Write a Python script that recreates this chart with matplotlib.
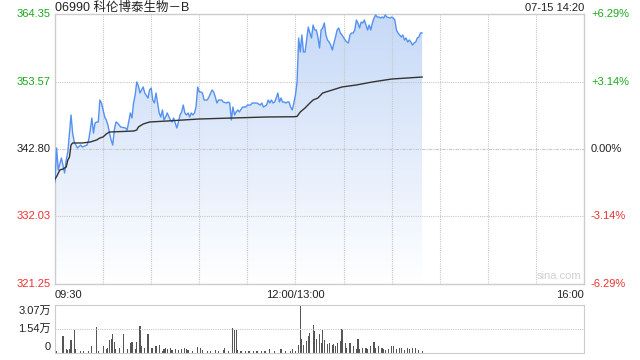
import matplotlib
matplotlib.use('Agg')
from matplotlib import pyplot as plt
from matplotlib.colors import LinearSegmentedColormap
import numpy as np

plt.rcParams['font.family'] = ['Liberation Sans', 'Noto Sans CJK SC', 'DejaVu Sans']

title = '06990 科伦博泰生物－B'
stamp = '07-15 14:20'
prev_close = 342.80
price_ticks = [321.25, 332.03, 342.80, 353.57, 364.35]
pct_labels = ['-6.29%', '-3.14%', '0.00%', '+3.14%', '+6.29%']
time_labels = ['09:30', '12:00/13:00', '16:00']
vol_labels = ['0', '1.54万', '3.07万']
vol_ticks = [0, 1.54, 3.07]

# minutes since 09:30 (lunch break removed, 13:00 = 150)
minutes = [0, 1, 2, 4, 6, 7, 8, 10, 11, 12, 13, 14, 16, 17, 20, 21, 22, 23, 24, 25,
           26, 27, 28, 29, 30, 31, 32, 33, 34, 35, 36, 37, 38, 39, 41, 44, 45, 47, 48, 49,
           50, 51, 52, 53, 55, 56, 58, 59, 60, 61, 62, 63, 64, 65, 66, 67, 68, 69, 70, 72,
           73, 74, 75, 76, 77, 78, 79, 80, 81, 82, 83, 84, 85, 86, 87, 88, 89, 90, 91, 92,
           93, 95, 96, 98, 99, 100, 101, 102, 104, 105, 107, 108, 109, 110, 111, 112, 113, 114, 115, 117,
           119, 120, 122, 123, 126, 128, 129, 130, 132, 133, 134, 135, 136, 137, 138, 139, 140, 141, 142, 143,
           144, 145, 146, 147, 148, 149, 150, 151, 152, 153, 154, 155, 156, 158, 159, 160, 161, 162, 163, 164,
           165, 166, 167, 168, 169, 170, 171, 172, 173, 174, 175, 176, 177, 178, 179, 181, 182, 183, 184, 185,
           186, 187, 188, 189, 190, 191, 192, 193, 194, 195, 196, 197, 198, 199, 200, 201, 202, 203, 204, 205,
           206, 207, 209, 210, 211, 212, 213, 214, 215, 216, 217, 218, 219, 220, 221, 222, 223, 224, 225, 226,
           227, 228, 229]
prices = [337.53, 342.96, 339.45, 341.36, 338.97, 341.04, 342.32, 348.23, 345.35, 343.92, 343.44, 342.96, 343.44, 343.12, 343.44, 344.24, 345.83, 347.75, 345.35, 346.95,
          347.11, 347.11, 350.62, 350.14, 349.03, 347.91, 347.43, 346.63, 345.35, 344.24, 343.44, 345.83, 347.11, 346.95, 346.31, 346.15, 345.83, 348.55, 347.75, 350.14,
          351.42, 353.50, 352.90, 351.74, 352.70, 351.74, 350.94, 352.22, 352.54, 350.62, 350.14, 351.74, 350.14, 348.55, 347.91, 349.03, 347.43, 347.91, 348.55, 347.43,
          347.11, 347.75, 346.95, 346.15, 347.11, 348.23, 348.71, 349.82, 348.55, 348.23, 348.55, 347.91, 348.55, 348.23, 348.55, 349.50, 352.70, 351.90, 351.90, 351.74,
          350.62, 350.62, 351.10, 352.22, 351.90, 351.10, 350.14, 350.62, 350.62, 350.30, 350.14, 350.30, 350.14, 347.43, 349.50, 348.23, 348.71, 349.03, 348.71, 349.50,
          349.50, 349.82, 349.82, 350.14, 350.14, 349.82, 350.14, 349.50, 349.82, 350.62, 350.14, 350.62, 350.14, 350.30, 350.94, 351.74, 350.30, 350.94, 350.30, 350.30,
          350.14, 350.30, 350.30, 349.50, 349.03, 350.14, 351.42, 353.50, 360.52, 358.28, 361.00, 358.28, 358.28, 362.27, 361.32, 360.52, 362.59, 361.80, 361.80, 360.68,
          358.92, 361.80, 362.12, 362.91, 361.00, 360.20, 359.88, 359.40, 358.60, 359.72, 360.68, 361.80, 362.12, 361.32, 361.00, 360.20, 359.88, 359.72, 361.00, 361.32,
          361.32, 361.80, 363.39, 362.91, 362.12, 363.07, 362.91, 363.39, 362.59, 361.80, 362.59, 361.80, 362.91, 363.71, 364.19, 363.87, 363.87, 363.71, 363.87, 363.71,
          364.19, 363.87, 363.71, 363.87, 363.71, 363.39, 361.80, 361.32, 361.00, 360.68, 361.00, 360.20, 360.52, 359.88, 360.20, 359.88, 359.40, 359.72, 359.88, 360.52,
          360.68, 361.32, 361.32]

avg_minutes = [0, 1, 3, 5, 7, 8, 9, 10, 11, 17, 22, 26, 28, 30, 32, 34, 49, 51, 52, 55,
               59, 70, 80, 90, 111, 132, 149, 151, 153, 156, 159, 161, 164, 167, 171, 177, 179, 188, 198, 210,
               229]
avg_prices = [338.00, 338.40, 339.45, 339.60, 339.93, 341.04, 341.50, 343.44, 343.76, 343.76, 343.92, 344.24, 344.56, 344.72, 345.20, 345.51, 345.67, 345.83, 346.31, 346.79,
              347.11, 347.27, 347.43, 347.59, 347.75, 347.91, 347.95, 348.00, 348.71, 349.35, 350.14, 350.62, 350.94, 351.74, 352.06, 352.54, 352.70, 353.02, 353.50, 353.97,
              354.29]

# volume in units of 10,000 shares
vol_minutes = [1, 5, 7, 8, 9, 10, 12, 13, 16, 18, 21, 23, 26, 27, 30, 32, 33, 34, 35, 36,
               37, 38, 40, 43, 45, 47, 48, 50, 51, 53, 54, 56, 58, 60, 61, 63, 65, 67, 68, 69,
               70, 72, 73, 75, 77, 79, 81, 82, 83, 86, 89, 91, 92, 95, 97, 100, 102, 105, 106, 108,
               111, 112, 113, 114, 116, 119, 121, 124, 126, 129, 131, 134, 137, 141, 144, 147, 148, 150, 152, 153,
               154, 155, 157, 158, 159, 161, 162, 163, 165, 166, 167, 168, 170, 171, 173, 174, 175, 176, 178, 179,
               181, 182, 184, 186, 188, 189, 190, 192, 194, 195, 197, 199, 200, 202, 204, 205, 206, 208, 210, 211,
               213, 215, 216, 218, 220, 221, 223, 225, 227, 229]
volumes = [0.15, 1.09, 0.25, 0.20, 0.25, 0.84, 1.44, 0.25, 0.15, 0.15, 0.15, 0.42, 1.67, 0.15, 0.42, 0.25, 0.29, 0.84, 0.88, 1.23,
           0.71, 0.25, 0.29, 1.23, 0.25, 0.63, 0.73, 0.25, 0.71, 1.75, 0.46, 0.29, 1.19, 0.35, 0.29, 0.46, 0.50, 0.15, 0.25, 0.29,
           0.25, 0.29, 0.21, 0.25, 0.21, 0.25, 0.29, 0.25, 0.21, 0.15, 0.40, 0.35, 0.21, 0.15, 0.15, 0.21, 0.15, 0.21, 0.29, 0.15,
           1.61, 1.50, 1.44, 0.21, 0.15, 0.10, 0.10, 0.10, 0.10, 0.10, 0.10, 0.25, 0.15, 0.25, 0.15, 0.15, 0.25, 0.15, 0.50, 3.07,
           0.88, 0.50, 0.77, 1.09, 1.29, 1.82, 1.40, 0.88, 1.19, 0.67, 1.50, 0.81, 0.56, 0.67, 0.50, 0.56, 0.42, 0.67, 0.77, 1.55,
           0.67, 0.29, 0.63, 0.42, 0.25, 0.92, 0.25, 0.29, 0.29, 0.25, 0.42, 0.71, 0.35, 0.42, 0.29, 0.25, 0.21, 0.25, 0.42, 0.46,
           0.25, 0.35, 0.29, 0.21, 0.29, 0.25, 0.29, 0.29, 0.21, 0.15]

green = '#1aa81a'
red = '#f03030'
grid_c = '#c8c8c8'
edge_c = '#cccccc'

fig = plt.figure(figsize=(6.4, 3.6), dpi=100)
ax = fig.add_axes([55 / 640, 1 - 284 / 360, 529 / 640, 270 / 360])
vax = fig.add_axes([55 / 640, 1 - 353 / 360, 529 / 640, 48 / 360])

ymin, ymax = price_ticks[0], price_ticks[-1]
ax.set_xlim(0, 330)
ax.set_ylim(ymin, ymax)

# gradient fill under the price line
fill = ax.fill_between(minutes, prices, ymin, color='none', lw=0)
cmap = LinearSegmentedColormap.from_list('fade', ['#ffffff', '#c6d9f7'])
grad = np.linspace(0, 1, 256).reshape(-1, 1)
img = ax.imshow(grad, extent=[0, 330, ymin, ymax], origin='lower', aspect='auto',
                cmap=cmap, zorder=1)
img.set_clip_path(fill.get_paths()[0], transform=ax.transData)

ax.plot(minutes, prices, color='#5591f0', lw=1.0, zorder=3)
ax.plot(avg_minutes, avg_prices, color='#333333', lw=1.0, zorder=3)

for t in price_ticks[1:-1]:
    ls = (0, (1, 1)) if t != prev_close else (0, (3, 1, 1, 1))
    ax.axhline(t, color=grid_c, lw=0.8, ls=ls, zorder=2)
for m in range(30, 330, 30):
    ax.axvline(m, color=grid_c, lw=0.8, ls=(0, (1, 1)), zorder=2)

ax.set_xticks([])
ax.set_yticks([])
for s in ax.spines.values():
    s.set_color(edge_c)
    s.set_linewidth(1.0)

ytrans = ax.get_yaxis_transform()
colors = [red, red, '#222222', green, green]
for t, pl, c in zip(price_ticks, pct_labels, colors):
    ax.annotate(f'{t:.2f}', xy=(0, t), xycoords=ytrans, xytext=(-3, 0),
                textcoords='offset points', color=c, fontsize=8, ha='right', va='center')
    ax.annotate(pl, xy=(1, t), xycoords=ytrans, xytext=(5, 0),
                textcoords='offset points', color=c, fontsize=8, ha='left', va='center')

ax.annotate(title, xy=(0, 1), xycoords='axes fraction', xytext=(0, 2),
            textcoords='offset points', fontsize=9, ha='left', va='baseline', color='#222222')
ax.annotate(stamp, xy=(1, 1), xycoords='axes fraction', xytext=(0, 2),
            textcoords='offset points', fontsize=8, ha='right', va='baseline', color='#222222')
ax.text(0.995, 0.01, 'sina.com', fontsize=8, ha='right', va='bottom', color='#d0d0d0',
        transform=ax.transAxes)

xtrans = ax.get_xaxis_transform()
for x, lab, ha in zip([0, 150, 330], time_labels, ['left', 'center', 'right']):
    ax.annotate(lab, xy=(x, 0), xycoords=xtrans, xytext=(0, -4),
                textcoords='offset points', fontsize=8, ha=ha, va='top', color='#222222')

# volume panel
vax.bar(vol_minutes, volumes, width=0.7, color='#555555', lw=0)
vax.set_xlim(0, 330)
vax.set_ylim(0, 3.07)
vax.axhline(1.54, color=grid_c, lw=0.8, ls=(0, (1, 1)))
vax.set_xticks([])
vax.set_yticks([])
for s in vax.spines.values():
    s.set_color(edge_c)
vax.spines['top'].set_linestyle((0, (1, 1)))
vtrans = vax.get_yaxis_transform()
for t, lab, dy in zip(vol_ticks, vol_labels, [4, 0, -4.5]):
    vax.annotate(lab, xy=(0, t), xycoords=vtrans, xytext=(-3, dy),
                 textcoords='offset points', fontsize=8, ha='right', va='center', color='#222222')

fig.savefig('out.png', dpi=100)
